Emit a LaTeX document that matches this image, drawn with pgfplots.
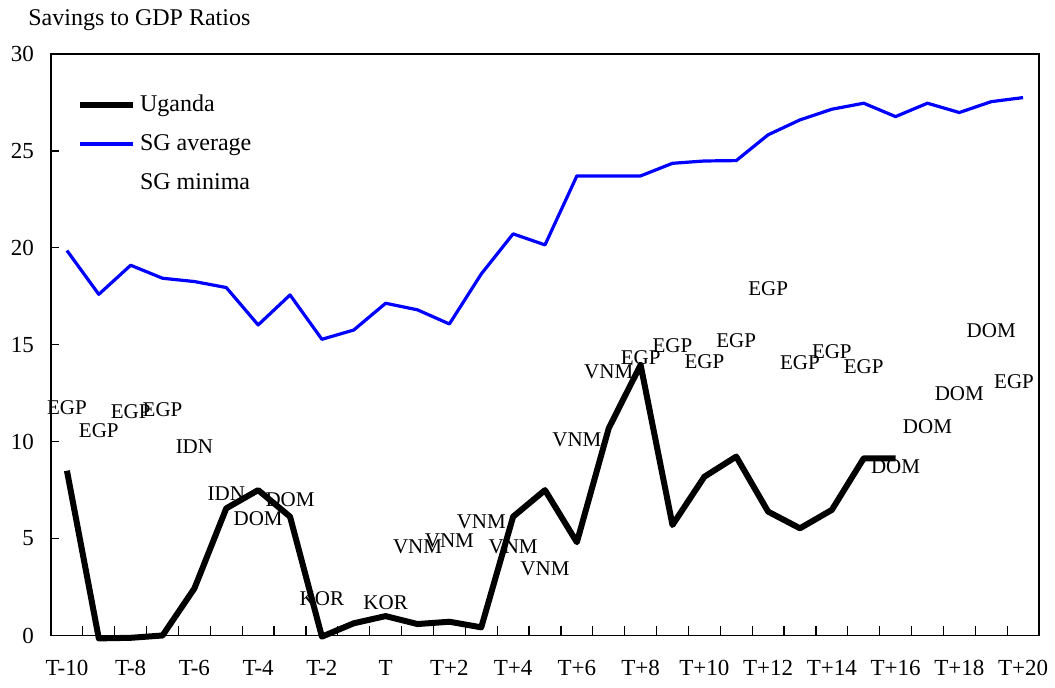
\documentclass[border=0pt]{standalone}
\usepackage{fontspec}
\setmainfont{Liberation Serif}
\usepackage{pgfplots}
\usepackage{pgfplotstable}
\pgfplotsset{compat=1.18}

% Uganda savings ratio
\pgfplotstableread{
x y
0 8.5
1 -0.15
2 -0.12
3 0.0
4 2.43
5 6.56
6 7.5
7 6.13
8 -0.06
9 0.63
10 1.0
11 0.59
12 0.71
13 0.42
14 6.13
15 7.5
16 4.81
17 10.69
18 13.96
19 5.7
20 8.19
21 9.23
22 6.39
23 5.53
24 6.48
25 9.14
26 9.14
}\uganda

% SG average
\pgfplotstableread{
x y
0 19.86
1 17.6
2 19.1
3 18.43
4 18.26
5 17.95
6 16.02
7 17.57
8 15.28
9 15.76
10 17.14
11 16.8
12 16.07
13 18.65
14 20.72
15 20.15
16 23.71
17 23.71
18 23.71
19 24.36
20 24.48
21 24.5
22 25.83
23 26.6
24 27.15
25 27.46
26 26.77
27 27.46
28 26.98
29 27.54
30 27.75
}\sgavg

% SG minima (country codes as labels)
\pgfplotstableread{
x y lab
0 11.76 EGP
1 10.55 EGP
2 11.55 EGP
3 11.67 EGP
4 9.74 IDN
5 7.3 IDN
6 6.01 DOM
7 6.99 DOM
8 1.88 KOR
10 1.7 KOR
11 4.57 VNM
12 4.9 VNM
13 5.87 VNM
14 4.57 VNM
15 3.43 VNM
16 10.1 VNM
17 13.6 VNM
18 14.35 EGP
19 14.95 EGP
20 14.15 EGP
21 15.2 EGP
22 17.9 EGP
23 14.05 EGP
24 14.65 EGP
25 13.85 EGP
26 8.71 DOM
27 10.78 DOM
28 12.46 DOM
29 15.75 DOM
}\sgmin

\begin{document}
\begin{tikzpicture}
\useasboundingbox (-25.5pt,-26.25pt) rectangle (502pt,317.75pt);
\begin{axis}[
  at={(0,0)}, anchor=south west,
  scale only axis, width=494pt, height=290.75pt,
  xmin=-0.5, xmax=30.5, ymin=0, ymax=30,
  clip=false,
  xtick={0,2,...,30},
  xticklabels={T-10,T-8,T-6,T-4,T-2,T,T+2,T+4,T+6,T+8,T+10,T+12,T+14,T+16,T+18,T+20},
  minor xtick={0.5,1.5,...,29.5},
  major x tick style={draw=none},
  ytick={0,5,...,30},
  tick pos=left,
  tick align=inside,
  major tick length=4pt,
  minor tick length=4.5pt,
  tick style={black, line width=0.6pt},
  axis line style={line width=0.7pt},
  /pgf/number format/assume math mode=true,
  xticklabel style={font=\fontsize{11.5}{13}\selectfont, yshift=-9pt},
  yticklabel style={font=\fontsize{11.5}{13}\selectfont, xshift=-5pt},
  legend cell align=left,
  legend image code/.code={\draw[#1] (0pt,0pt) -- (26.5pt,0pt);},
  legend style={at={(0.026,0.9386)}, anchor=north west, draw=none, fill=none,
    inner sep=0pt, row sep=4.5pt, font=\fontsize{12}{14}\selectfont,
    nodes={inner sep=2pt, text height=8.5pt, text depth=2.5pt}},
]
\addplot[black, line width=3pt, mark=none, line join=round] table[x=x, y=y] {\uganda};
\addlegendentry{Uganda}
\addplot[blue, line width=1.6pt, mark=none, line join=round] table[x=x, y=y] {\sgavg};
\addlegendentry{SG average}
\addplot[draw=none, mark=none, legend image code/.code={},
  nodes near coords, point meta=explicit symbolic,
  every node near coord/.append style={anchor=center, inner sep=0pt, font=\fontsize{10.5}{12}\selectfont}]
  table[x=x, y=y, meta=lab] {\sgmin};
\addlegendentry{SG minima}
% last label is pushed inside the plot area, as in the original
\addplot[draw=none, mark=none, forget plot, nodes near coords, point meta=explicit symbolic,
  every node near coord/.append style={anchor=center, inner sep=0pt, xshift=-4.5pt, font=\fontsize{10.5}{12}\selectfont}]
  table[x=x, y=y, meta=lab] {
x y lab
30 13.1 EGP
};
\end{axis}
\node[anchor=base west, font=\fontsize{12}{14}\selectfont, inner sep=0pt] at (-11.5pt,304.75pt) {Savings to GDP Ratios};
\end{tikzpicture}
\end{document}
